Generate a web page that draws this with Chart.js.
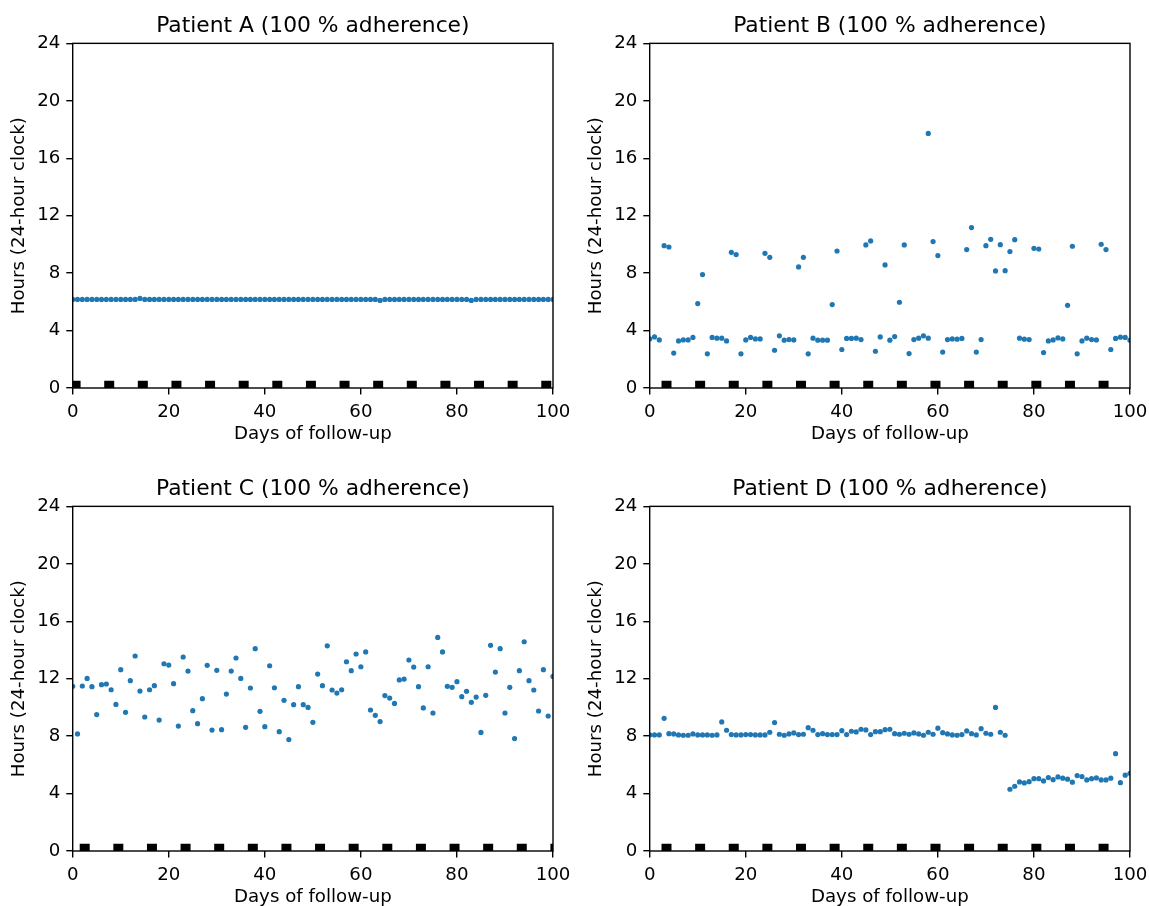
<!DOCTYPE html>
<html>
<head>
<meta charset="utf-8">
<script src="https://cdn.jsdelivr.net/npm/chart.js@4"></script>
<style>
  body { margin: 0; background: #fff; width: 1149px; height: 906px; overflow: hidden; position: relative; }
  .panel { position: absolute; width: 574px; height: 453px; }
</style>
</head>
<body>
<div class="panel" id="panelA" style="left:0;top:0"></div>
<div class="panel" id="panelB" style="left:577px;top:0"></div>
<div class="panel" id="panelC" style="left:0;top:463px"></div>
<div class="panel" id="panelD" style="left:577px;top:463px"></div>
<script>
// day of follow-up for each recorded intake (A, C, D: one per day)
const days = [
  0, 1, 2, 3, 4, 5, 6, 7, 8, 9, 10, 11, 12, 13, 14, 15, 16, 17, 18, 19,
  20, 21, 22, 23, 24, 25, 26, 27, 28, 29, 30, 31, 32, 33, 34, 35, 36, 37, 38, 39,
  40, 41, 42, 43, 44, 45, 46, 47, 48, 49, 50, 51, 52, 53, 54, 55, 56, 57, 58, 59,
  60, 61, 62, 63, 64, 65, 66, 67, 68, 69, 70, 71, 72, 73, 74, 75, 76, 77, 78, 79,
  80, 81, 82, 83, 84, 85, 86, 87, 88, 89, 90, 91, 92, 93, 94, 95, 96, 97, 98, 99, 100
];
// patient B has two intakes on day 58
const daysB = [
  0, 1, 2, 3, 4, 5, 6, 7, 8, 9, 10, 11, 12, 13, 14, 15, 16, 17, 18, 19,
  20, 21, 22, 23, 24, 25, 26, 27, 28, 29, 30, 31, 32, 33, 34, 35, 36, 37, 38, 39,
  40, 41, 42, 43, 44, 45, 46, 47, 48, 49, 50, 51, 52, 53, 54, 55, 56, 57, 58, 58, 59,
  60, 61, 62, 63, 64, 65, 66, 67, 68, 69, 70, 71, 72, 73, 74, 75, 76, 77, 78, 79,
  80, 81, 82, 83, 84, 85, 86, 87, 88, 89, 90, 91, 92, 93, 94, 95, 96, 97, 98, 99, 100
];

// intake hour (24-hour clock)
const hoursA = [
  6.17, 6.17, 6.17, 6.17, 6.17, 6.17, 6.17, 6.17, 6.17, 6.17,
  6.17, 6.17, 6.17, 6.17, 6.24, 6.17, 6.17, 6.17, 6.17, 6.17,
  6.17, 6.17, 6.17, 6.17, 6.17, 6.17, 6.17, 6.17, 6.17, 6.17,
  6.17, 6.17, 6.17, 6.17, 6.17, 6.17, 6.17, 6.17, 6.17, 6.17,
  6.17, 6.17, 6.17, 6.17, 6.17, 6.17, 6.17, 6.17, 6.17, 6.17,
  6.17, 6.17, 6.17, 6.17, 6.17, 6.17, 6.17, 6.17, 6.17, 6.17,
  6.17, 6.17, 6.17, 6.17, 6.10, 6.17, 6.17, 6.17, 6.17, 6.17,
  6.17, 6.17, 6.17, 6.17, 6.17, 6.17, 6.17, 6.17, 6.17, 6.17,
  6.17, 6.17, 6.17, 6.10, 6.17, 6.17, 6.17, 6.17, 6.17, 6.17,
  6.17, 6.17, 6.17, 6.17, 6.17, 6.17, 6.17, 6.17, 6.17, 6.17,
  6.17
];
const hoursB = [
  3.42, 3.56, 3.35, 9.91, 9.82, 2.43, 3.28, 3.35, 3.35, 3.52,
  5.88, 7.90, 2.38, 3.52, 3.47, 3.47, 3.28, 9.45, 9.29, 2.38,
  3.35, 3.52, 3.42, 3.42, 9.38, 9.10, 2.63, 3.63, 3.33, 3.37,
  3.35, 8.43, 9.10, 2.38, 3.47, 3.33, 3.33, 3.33, 5.81, 9.54,
  2.68, 3.45, 3.45, 3.47, 3.37, 9.96, 10.24, 2.56, 3.56, 8.57,
  3.33, 3.58, 5.97, 9.96, 2.40, 3.37, 3.47, 3.63, 3.47, 17.73, 10.20, 9.22,
  2.50, 3.37, 3.42, 3.40, 3.45, 9.64, 11.17, 2.50, 3.37,
  9.91, 10.35, 8.15, 9.98, 8.17, 9.50, 10.33, 3.47, 3.40, 3.37,
  9.73, 9.68, 2.47, 3.28, 3.35, 3.49, 3.42, 5.76, 9.87, 2.38,
  3.28, 3.47, 3.37, 3.35, 10.01, 9.64, 2.68, 3.45, 3.54, 3.52,
  3.33
];
const hoursC = [
  11.47, 8.15, 11.49, 12.02, 11.44, 9.50, 11.58, 11.63, 11.23, 10.21,
  12.63, 9.66, 11.86, 13.58, 11.14, 9.33, 11.23, 11.51, 9.12, 13.04,
  12.95, 11.65, 8.70, 13.51, 12.53, 9.77, 8.87, 10.61, 12.93, 8.42,
  12.58, 8.45, 10.93, 12.53, 13.44, 12.02, 8.61, 11.35, 14.09, 9.73,
  8.66, 12.90, 11.37, 8.31, 10.49, 7.76, 10.19, 11.44, 10.19, 10.00,
  8.96, 12.32, 11.51, 14.29, 11.21, 11.00, 11.23, 13.18, 12.56, 13.72,
  12.83, 13.86, 9.82, 9.45, 9.01, 10.82, 10.65, 10.28, 11.91, 11.97,
  13.30, 12.81, 11.44, 9.96, 12.83, 9.61, 14.87, 13.86, 11.47, 11.40,
  11.79, 10.75, 11.12, 10.35, 10.72, 8.26, 10.84, 14.32, 12.46, 14.09,
  9.61, 11.40, 7.83, 12.56, 14.57, 11.86, 11.21, 9.75, 12.63, 9.40,
  12.16
];
const hoursD = [
  8.08, 8.08, 8.08, 9.24, 8.17, 8.15, 8.08, 8.06, 8.06, 8.15,
  8.08, 8.08, 8.08, 8.06, 8.08, 8.99, 8.41, 8.11, 8.08, 8.08,
  8.11, 8.11, 8.08, 8.08, 8.08, 8.27, 8.94, 8.13, 8.06, 8.15,
  8.22, 8.11, 8.13, 8.59, 8.41, 8.11, 8.17, 8.11, 8.11, 8.11,
  8.38, 8.11, 8.34, 8.29, 8.48, 8.43, 8.11, 8.31, 8.31, 8.45,
  8.48, 8.17, 8.13, 8.20, 8.13, 8.22, 8.15, 8.06, 8.27, 8.13,
  8.55, 8.24, 8.15, 8.08, 8.06, 8.11, 8.36, 8.17, 8.08, 8.52,
  8.20, 8.13, 10.00, 8.27, 8.06, 4.30, 4.51, 4.81, 4.74, 4.83,
  5.04, 5.04, 4.88, 5.11, 4.97, 5.16, 5.07, 5.00, 4.79, 5.25,
  5.18, 4.95, 5.04, 5.09, 4.95, 4.95, 5.07, 6.78, 4.76, 5.28,
  5.41
];

// weekly visit markers on the day axis
const visitsA = [0.6, 7.6, 14.6, 21.6, 28.6, 35.6, 42.6, 49.6, 56.6, 63.6, 70.6, 77.6, 84.6, 91.6, 98.6];
const visitsB = [3.5, 10.5, 17.5, 24.5, 31.5, 38.5, 45.5, 52.5, 59.5, 66.5, 73.5, 80.5, 87.5, 94.5];
const visitsC = [2.5, 9.5, 16.5, 23.5, 30.5, 37.5, 44.5, 51.5, 58.5, 65.5, 72.5, 79.5, 86.5, 93.5, 100.5];
const visitsD = [3.5, 10.5, 17.5, 24.5, 31.5, 38.5, 45.5, 52.5, 59.5, 66.5, 73.5, 80.5, 87.5, 94.5];
const visitHour = 0.15;

const yTicks = [0, 4, 8, 12, 16, 20, 24];

Chart.defaults.font.family = "'DejaVu Sans', sans-serif";
Chart.defaults.color = "#000";

const frame = {
  id: "frame",
  afterDatasetsDraw(chart) {
    const a = chart.chartArea;
    const ctx = chart.ctx;
    ctx.save();
    ctx.strokeStyle = "#000";
    ctx.lineWidth = 1.4;
    ctx.strokeRect(a.left, a.top, a.right - a.left, a.bottom - a.top);
    ctx.restore();
  }
};

function createPanel(id, title, xs, ys, visits) {
  const container = document.getElementById(id);
  const canvas = document.createElement("canvas");
  canvas.width = 574;
  canvas.height = 453;
  container.appendChild(canvas);

  return new Chart(canvas.getContext("2d"), {
    type: "scatter",
    data: {
      datasets: [
        {
          data: xs.map((d, i) => ({ x: d, y: ys[i] })),
          pointRadius: 2.6,
          pointBackgroundColor: "#1f77b4",
          pointBorderWidth: 0,
          clip: 0
        },
        {
          data: visits.map(d => ({ x: d, y: visitHour })),
          pointStyle: "rect",
          pointRadius: 7.07,
          pointBackgroundColor: "#000",
          pointBorderWidth: 0,
          clip: 0
        }
      ]
    },
    options: {
      responsive: false,
      animation: false,
      events: [],
      layout: { padding: { left: 0, right: 21, top: 0, bottom: 0 } },
      plugins: {
        legend: { display: false },
        tooltip: { enabled: false },
        title: {
          display: true,
          fullSize: false,
          text: title,
          font: { size: 21.8, weight: "normal" },
          color: "#000",
          padding: { top: 13, bottom: 4.2 }
        }
      },
      scales: {
        x: {
          type: "linear",
          min: 0,
          max: 100,
          ticks: { stepSize: 20, padding: 7, font: { size: 18.2 }, maxRotation: 0 },
          grid: { drawOnChartArea: false, drawTicks: true, tickLength: 6.4, color: "#000", lineWidth: 1.4 },
          border: { display: false },
          title: { display: true, text: "Days of follow-up", font: { size: 18.2 }, padding: { top: 0, bottom: 8 } },
          afterFit(s) { s.height = 65; s.paddingLeft = 0; s.paddingRight = 0; }
        },
        y: {
          min: 0,
          max: 24,
          afterBuildTicks(s) { s.ticks = yTicks.map(v => ({ value: v })); },
          ticks: { padding: 6, font: { size: 18.2 } },
          grid: { drawOnChartArea: false, drawTicks: true, tickLength: 6.4, color: "#000", lineWidth: 1.4 },
          border: { display: false },
          title: { display: true, text: "Hours (24-hour clock)", font: { size: 18.2 }, padding: { top: 8, bottom: 0 } },
          afterFit(s) { s.width = 72.7; s.paddingTop = 0; s.paddingBottom = 0; }
        }
      }
    },
    plugins: [frame]
  });
}

createPanel("panelA", "Patient A (100 % adherence)", days, hoursA, visitsA);
createPanel("panelB", "Patient B (100 % adherence)", daysB, hoursB, visitsB);
createPanel("panelC", "Patient C (100 % adherence)", days, hoursC, visitsC);
createPanel("panelD", "Patient D (100 % adherence)", days, hoursD, visitsD);
</script>
</body>
</html>
